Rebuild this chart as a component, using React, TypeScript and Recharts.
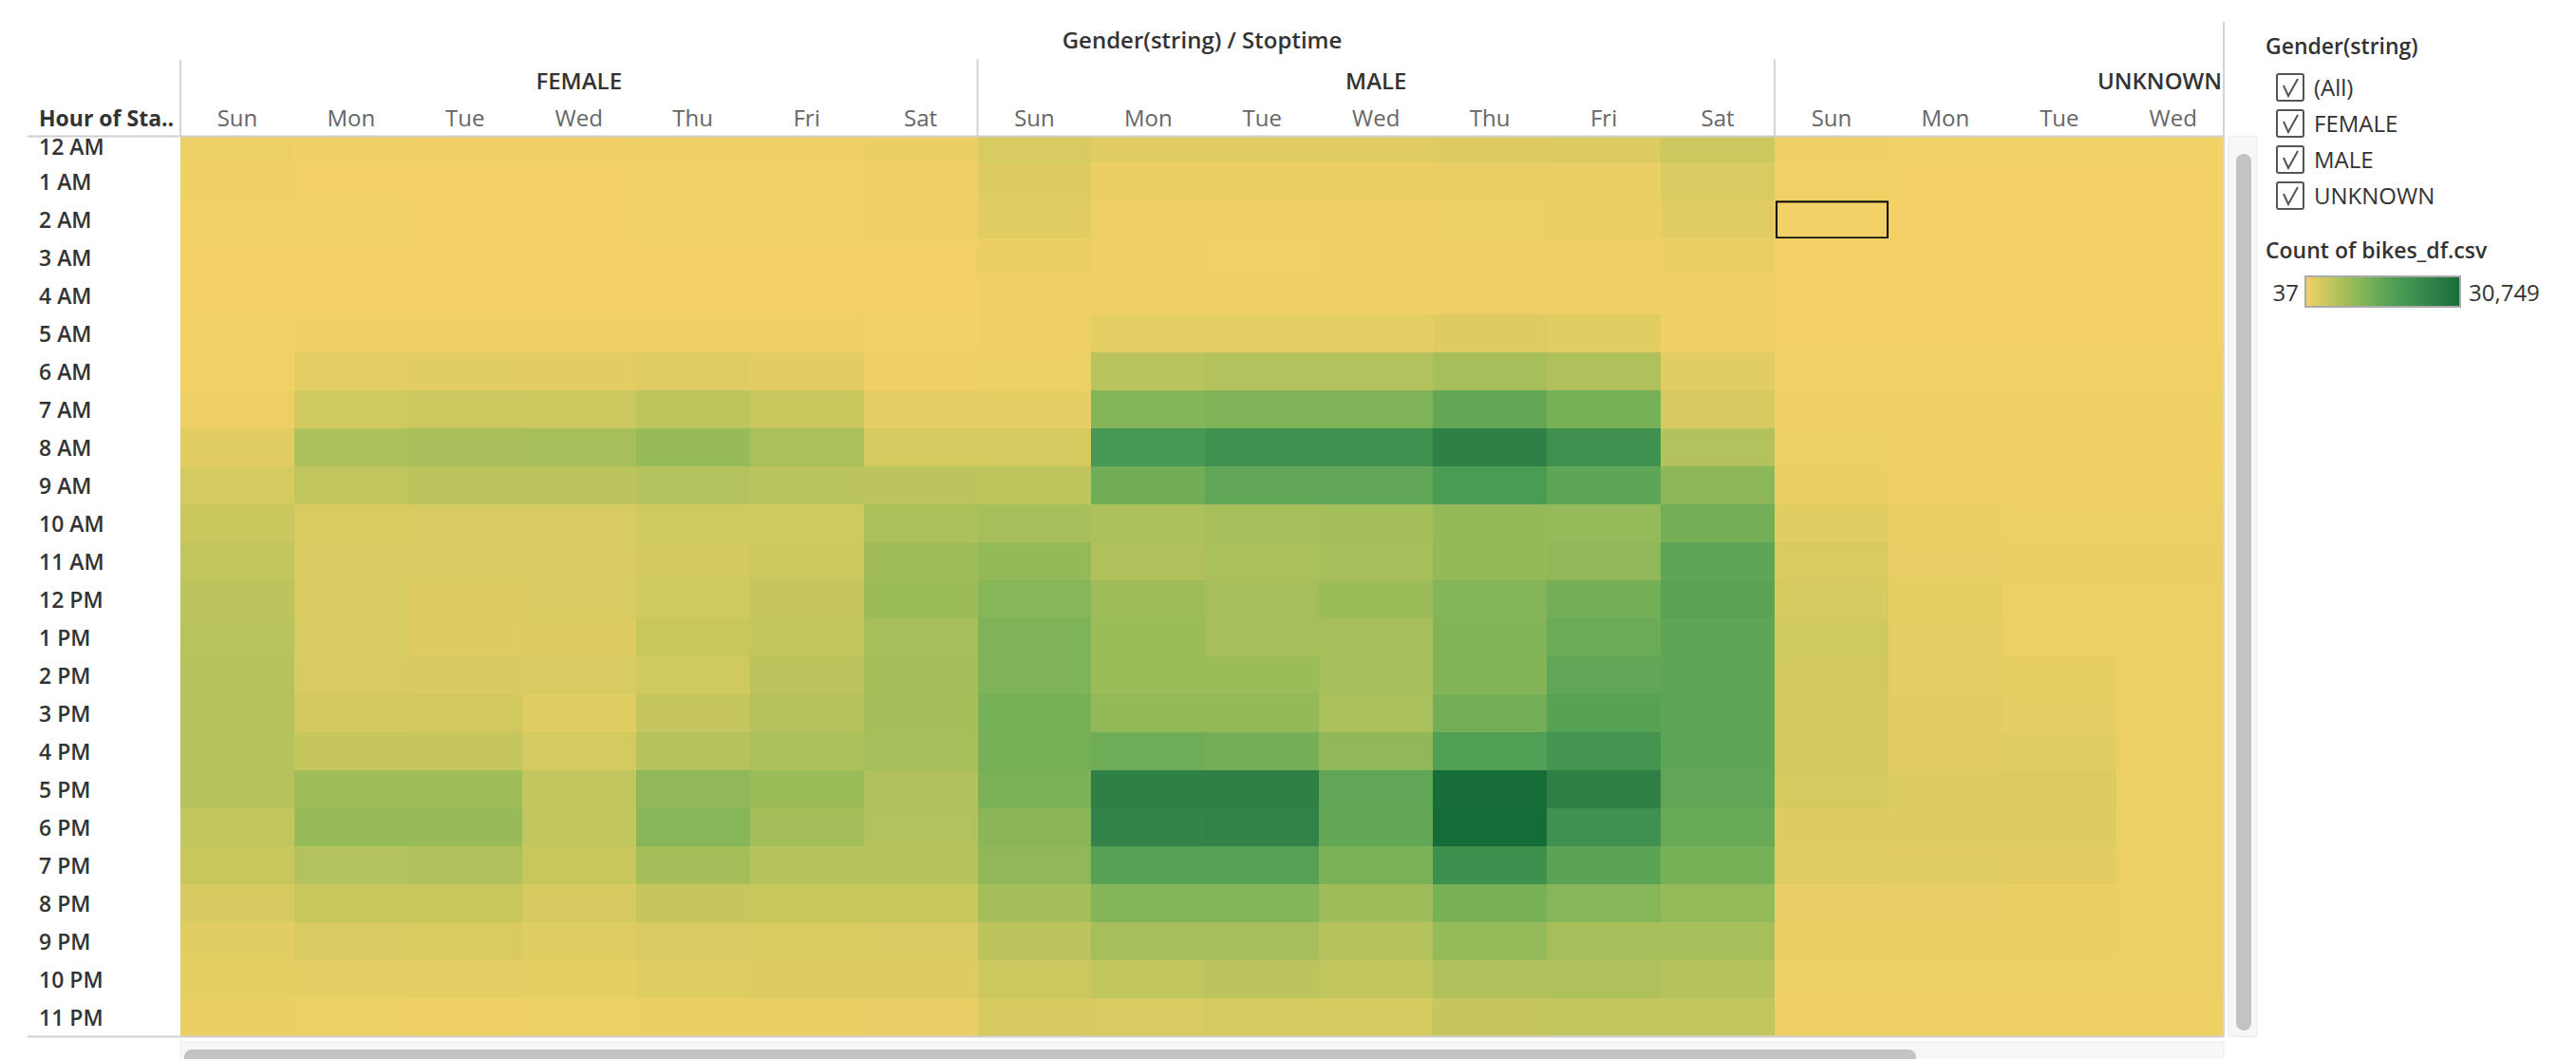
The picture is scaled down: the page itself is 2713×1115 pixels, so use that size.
import React from 'react';
import { ScatterChart, Scatter, XAxis, YAxis, ReferenceLine } from 'recharts';

// ---- data ----
const days = ['Sun', 'Mon', 'Tue', 'Wed', 'Thu', 'Fri', 'Sat'];
const genders = ['FEMALE', 'MALE', 'UNKNOWN'];
const hourLabels = [
  '12 AM', '1 AM', '2 AM', '3 AM', '4 AM', '5 AM', '6 AM', '7 AM', '8 AM', '9 AM', '10 AM', '11 AM',
  '12 PM', '1 PM', '2 PM', '3 PM', '4 PM', '5 PM', '6 PM', '7 PM', '8 PM', '9 PM', '10 PM', '11 PM',
];

// rows = hour, columns = Sun..Sat
const femaleCounts = [
  [800, 500, 400, 400, 500, 650, 950],
  [500, 280, 280, 270, 290, 340, 650],
  [290, 190, 170, 180, 190, 220, 420],
  [180, 110, 100, 110, 120, 140, 260],
  [150, 120, 110, 120, 130, 130, 170],
  [200, 650, 640, 620, 660, 560, 190],
  [340, 1600, 1850, 1700, 2150, 1700, 420],
  [700, 3700, 4000, 4000, 5250, 4300, 1300],
  [1900, 7100, 7550, 7700, 9250, 7400, 3100],
  [3100, 4950, 5550, 5600, 6450, 5900, 5600],
  [4300, 2650, 2800, 2800, 3700, 3750, 7100],
  [4950, 2800, 2800, 2800, 3400, 4000, 8350],
  [5550, 2800, 2200, 2800, 3700, 4650, 8950],
  [5900, 2800, 2200, 2500, 4350, 4950, 7700],
  [6150, 2800, 2950, 2800, 3700, 5550, 8000],
  [6200, 3400, 3550, 2000, 4650, 6200, 8000],
  [6200, 4650, 4650, 3100, 6200, 7100, 7700],
  [6150, 8300, 8300, 4950, 10150, 8950, 6800],
  [4950, 9250, 9250, 4950, 11100, 8000, 6500],
  [4350, 6500, 6800, 4350, 8000, 6200, 6200],
  [2950, 4350, 4350, 2950, 4650, 4350, 4350],
  [1900, 2800, 2650, 2000, 2800, 2650, 2800],
  [1400, 1550, 1550, 1400, 2000, 2200, 2200],
  [950, 800, 500, 800, 950, 1100, 1250],
];

const maleCounts = [
  [2800, 1900, 1900, 1900, 2200, 2500, 4000],
  [2200, 950, 950, 950, 950, 1100, 2800],
  [1900, 650, 650, 650, 800, 950, 2050],
  [950, 400, 340, 500, 500, 500, 950],
  [500, 500, 500, 500, 500, 500, 500],
  [500, 1550, 1550, 1550, 2200, 1900, 500],
  [800, 5850, 6500, 6500, 7700, 6800, 1900],
  [1550, 11400, 12000, 12000, 15100, 12950, 2950],
  [3100, 19400, 21200, 21200, 25500, 21200, 6500],
  [5250, 13550, 15400, 15400, 18450, 15700, 10500],
  [7700, 7100, 7850, 8000, 9850, 9550, 13250],
  [9850, 6800, 7400, 7850, 9850, 10150, 15700],
  [11100, 8650, 7700, 8950, 11400, 13250, 16300],
  [12000, 8950, 7700, 7850, 11700, 14150, 15700],
  [12000, 8800, 8800, 7850, 11700, 15400, 15700],
  [12950, 9850, 9850, 7400, 13250, 16600, 15700],
  [12950, 13850, 13250, 10150, 17550, 20000, 15700],
  [12300, 25500, 25500, 15400, 30100, 25500, 15400],
  [10800, 24600, 24900, 15100, 30749, 21200, 14450],
  [10150, 16900, 16900, 12300, 21500, 16000, 12950],
  [8000, 11400, 11400, 8650, 12650, 11100, 9550],
  [5550, 7700, 7850, 6200, 9550, 7850, 7700],
  [4000, 4950, 5550, 4950, 6800, 6800, 6200],
  [2950, 2800, 3100, 3100, 4650, 4950, 4950],
];

// only Sun..Wed are visible in the scrolled view
const unknownCounts = [
  [500, 250, 200, 200],
  [350, 150, 100, 100],
  [200, 80, 60, 60],
  [120, 50, 40, 45],
  [100, 50, 37, 40],
  [150, 150, 120, 120],
  [250, 300, 300, 300],
  [400, 500, 500, 500],
  [800, 450, 400, 400],
  [1100, 650, 500, 500],
  [1900, 1100, 800, 800],
  [2650, 1250, 1100, 1100],
  [3100, 1400, 800, 800],
  [3700, 1550, 800, 800],
  [3550, 1550, 1400, 800],
  [3400, 1700, 1550, 800],
  [3550, 1700, 1900, 800],
  [3100, 2350, 2500, 800],
  [2200, 2350, 2350, 800],
  [2050, 1900, 1700, 800],
  [1250, 1250, 950, 800],
  [950, 950, 950, 800],
  [800, 800, 800, 800],
  [650, 500, 650, 650],
];

const colorMin = 37;
const colorMax = 30749;
const goldGreen = ['#f4d166', '#d5ca60', '#b6c35c', '#98bb59', '#7cb257', '#60a656', '#4b9c53', '#3f8f4f', '#33834a', '#257740', '#146c36'];
const filterItems = ['(All)', 'FEMALE', 'MALE', 'UNKNOWN'];
const selectedCell = { gender: 'UNKNOWN', day: 'Sun', hour: 2 };

// ---- layout ----
const W = 2713;
const H = 1115;
const FONT = '"Open Sans", Lato, sans-serif';
const CELL_W = 119.93;
const CELL_H = 40;
const PLOT_LEFT = 190;
const PLOT_RIGHT = 2342;
const PLOT_TOP = 143.6;
const X_MIN = -0.5;
const X_MAX = X_MIN + (PLOT_RIGHT - PLOT_LEFT) / CELL_W;
const Y_MIN = -0.5 + 12.2 / CELL_H; // first row is scrolled partly out of view
const Y_MAX = 23.5;
const PLOT_BOTTOM = PLOT_TOP + (Y_MAX - Y_MIN) * CELL_H;
const HEADER_Y = 62.5;

const hexToRgb = (h: string) => [1, 3, 5].map((i) => parseInt(h.slice(i, i + 2), 16));
const colorFor = (v: number) => {
  const t = Math.max(0, Math.min(1, (v - colorMin) / (colorMax - colorMin)));
  const p = t * (goldGreen.length - 1);
  const i = Math.min(goldGreen.length - 2, Math.floor(p));
  const f = p - i;
  const a = hexToRgb(goldGreen[i]);
  const b = hexToRgb(goldGreen[i + 1]);
  const c = a.map((x, k) => Math.round(x + (b[k] - x) * f));
  return `rgb(${c[0]},${c[1]},${c[2]})`;
};

const toPoints = (gender: string, gi: number, counts: number[][]) =>
  counts.flatMap((row, hour) =>
    row.map((value, di) => ({ gender, day: days[di], hour, col: gi * 7 + di, value }))
  );

const femalePoints = toPoints('FEMALE', 0, femaleCounts);
const malePoints = toPoints('MALE', 1, maleCounts);
const unknownPoints = toPoints('UNKNOWN', 2, unknownCounts);

const colTicks = Array.from({ length: 18 }, (_, i) => i);
const hourTicks = hourLabels.map((_, i) => i);

const CellShape = (props: any) => {
  const { cx, cy, payload } = props;
  if (cx == null || cy == null) return null;
  const x0 = Math.max(cx - CELL_W / 2, PLOT_LEFT);
  const x1 = Math.min(cx + CELL_W / 2, PLOT_RIGHT);
  const y0 = Math.max(cy - CELL_H / 2, PLOT_TOP);
  const y1 = Math.min(cy + CELL_H / 2, PLOT_BOTTOM);
  const sel =
    payload.gender === selectedCell.gender && payload.day === selectedCell.day && payload.hour === selectedCell.hour;
  return (
    <g>
      <rect x={x0} y={y0} width={x1 - x0} height={y1 - y0} fill={colorFor(payload.value)} shapeRendering="crispEdges" />
      {sel && (
        <rect x={x0 + 2} y={y0 + 1} width={x1 - x0 - 3} height={y1 - y0 - 2} fill="none" stroke="#000" strokeWidth={2} />
      )}
    </g>
  );
};

const HourTick = (props: any) => {
  const { y, payload } = props;
  const baseline = Math.max(y + 9, PLOT_TOP + 19);
  return (
    <text x={41} y={baseline} fontSize={23} fontWeight={600} fill="#333" fontFamily={FONT}>
      {hourLabels[payload.value]}
    </text>
  );
};

const DayTick = (props: any) => {
  const { x, payload } = props;
  const i = payload.value;
  const gi = Math.floor(i / 7);
  const pos = i % 7;
  const label = genders[gi];
  let groupEl = null;
  if (pos === 3) {
    const half = label.length * 9;
    const clamp = x + half > PLOT_RIGHT - 2;
    groupEl = (
      <text
        x={clamp ? PLOT_RIGHT - 2 : x}
        y={93.5}
        textAnchor={clamp ? 'end' : 'middle'}
        fontSize={24}
        fontWeight={600}
        fill="#333"
        fontFamily={FONT}
      >
        {label}
      </text>
    );
  }
  return (
    <g>
      {pos === 0 && (
        <line x1={x - CELL_W / 2} x2={x - CELL_W / 2} y1={HEADER_Y} y2={PLOT_TOP} stroke="#d4d4d4" strokeWidth={2} />
      )}
      {groupEl}
      <text x={x} y={133} textAnchor="middle" fontSize={24} fill="#666" fontFamily={FONT}>
        {days[pos]}
      </text>
    </g>
  );
};

const CheckBox = ({ y, label }: { y: number; label: string }) => (
  <g>
    <rect x={2398} y={y} width={28} height={28} rx={2} fill="#fff" stroke="#555" strokeWidth={2} />
    <path d={`M ${2405} ${y + 12} L ${2410} ${y + 23} L ${2420} ${y + 5}`} fill="none" stroke="#555" strokeWidth={2} />
    <text x={2437} y={y + 23} fontSize={24} fill="#333" fontFamily={FONT}>
      {label}
    </text>
  </g>
);

const Overlay = () => (
  <svg width={W} height={H} style={{ position: 'absolute', left: 0, top: 0, pointerEvents: 'none' }}>
    <defs>
      <linearGradient id="ramp" x1="0" x2="1" y1="0" y2="0">
        {goldGreen.map((c, i) => (
          <stop key={c} offset={i / (goldGreen.length - 1)} stopColor={c} />
        ))}
      </linearGradient>
    </defs>
    {/* title + row header */}
    <text x={(PLOT_LEFT + PLOT_RIGHT) / 2} y={51} textAnchor="middle" fontSize={24} fontWeight={600} fill="#333" fontFamily={FONT}>
      Gender(string) / Stoptime
    </text>
    <text x={41} y={133} fontSize={23} fontWeight={700} fill="#333" fontFamily={FONT}>
      Hour of Sta..
    </text>
    {/* frame lines */}
    <line x1={29} x2={PLOT_RIGHT} y1={PLOT_TOP} y2={PLOT_TOP} stroke="#d0d0d0" strokeWidth={2} />
    <line x1={29} x2={PLOT_RIGHT} y1={PLOT_BOTTOM} y2={PLOT_BOTTOM} stroke="#d0d0d0" strokeWidth={2} />
    <line x1={PLOT_RIGHT} x2={PLOT_RIGHT} y1={23} y2={PLOT_BOTTOM} stroke="#d4d4d4" strokeWidth={2} />
    {/* scrollbars */}
    <rect x={2347} y={PLOT_TOP} width={30} height={PLOT_BOTTOM - PLOT_TOP} fill="#f7f7f7" stroke="#ebebeb" strokeWidth={1} />
    <rect x={2355} y={162} width={16} height={923} rx={8} fill="#c3c3c3" />
    <rect x={PLOT_LEFT} y={1097} width={PLOT_RIGHT - PLOT_LEFT} height={20} fill="#f7f7f7" stroke="#ebebeb" strokeWidth={1} />
    <rect x={194} y={1105} width={1824} height={18} rx={8} fill="#c3c3c3" />
    {/* legend */}
    <text x={2386} y={57} fontSize={23} fontWeight={600} fill="#333" fontFamily={FONT}>
      Gender(string)
    </text>
    {filterItems.map((f, i) => (
      <CheckBox key={f} y={78 + i * 38} label={f} />
    ))}
    <text x={2386} y={272} fontSize={23} fontWeight={600} fill="#333" fontFamily={FONT}>
      Count of bikes_df.csv
    </text>
    <rect x={2428} y={291} width={163} height={32} fill="url(#ramp)" stroke="#aaa" strokeWidth={2} />
    <text x={2421} y={317} textAnchor="end" fontSize={24} fill="#333" fontFamily={FONT}>
      {colorMin}
    </text>
    <text x={2600} y={317} fontSize={24} fill="#333" fontFamily={FONT}>
      {colorMax.toLocaleString('en-US')}
    </text>
  </svg>
);

export default function App() {
  return (
    <div style={{ position: 'absolute', left: 0, top: 0, width: W, height: H, background: '#fff', overflow: 'hidden' }}>
      <ScatterChart
        width={W}
        height={H}
        margin={{ top: PLOT_TOP - 120, right: W - PLOT_RIGHT, bottom: H - PLOT_BOTTOM, left: 29 }}
      >
        <XAxis
          type="number"
          dataKey="col"
          orientation="top"
          domain={[X_MIN, X_MAX]}
          ticks={colTicks}
          interval={0}
          height={120}
          allowDataOverflow
          axisLine={false}
          tickLine={false}
          tick={(p: any) => <DayTick {...p} />}
        />
        <YAxis
          type="number"
          dataKey="hour"
          domain={[Y_MIN, Y_MAX]}
          ticks={hourTicks}
          interval={0}
          reversed
          width={PLOT_LEFT - 29}
          allowDataOverflow
          axisLine={false}
          tickLine={false}
          tick={(p: any) => <HourTick {...p} />}
        />
        <Scatter name="FEMALE" data={femalePoints} shape={CellShape} isAnimationActive={false} />
        <Scatter name="MALE" data={malePoints} shape={CellShape} isAnimationActive={false} />
        <Scatter name="UNKNOWN" data={unknownPoints} shape={CellShape} isAnimationActive={false} />
        <ReferenceLine x={6.5} stroke="#d6d6d6" strokeWidth={2} />
        <ReferenceLine x={13.5} stroke="#d6d6d6" strokeWidth={2} />
      </ScatterChart>
      <Overlay />
    </div>
  );
}
